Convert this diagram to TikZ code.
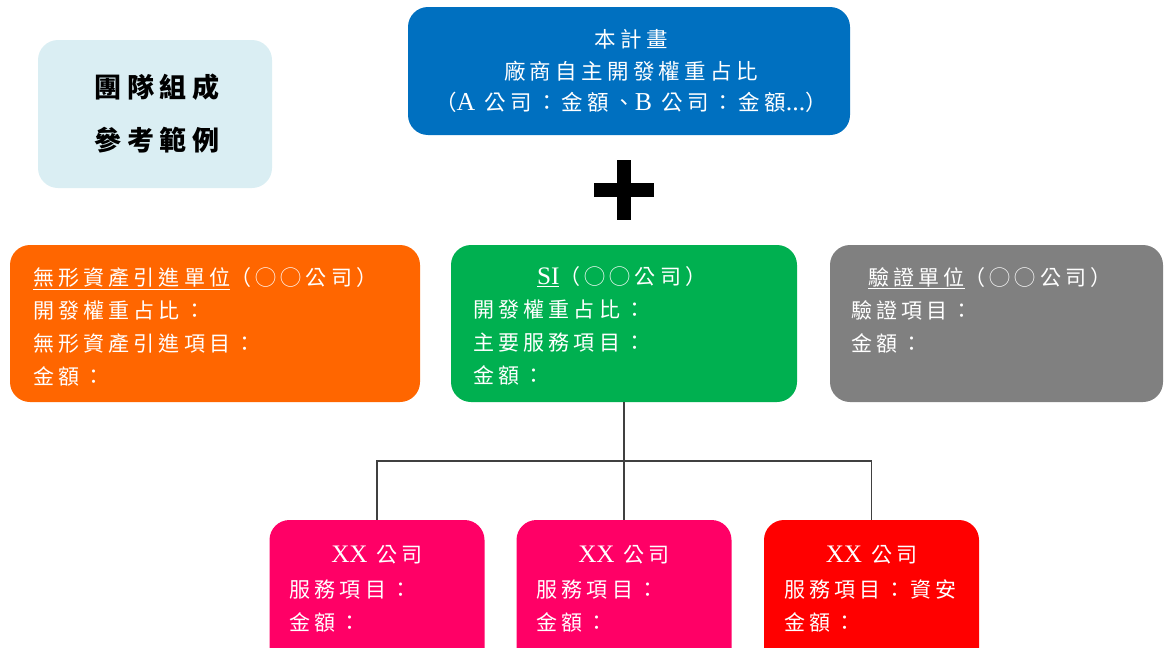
\documentclass[tikz,border=0pt]{standalone}
\usepackage{fontspec}
\setmainfont[LetterSpace=20]{Noto Sans CJK TC}
\newfontfamily\lat[Scale=1.2]{Liberation Serif}
\definecolor{teambg}{HTML}{DAEEF3}
\definecolor{planblue}{HTML}{0070C0}
\definecolor{iporange}{HTML}{FF6600}
\definecolor{sigreen}{HTML}{00B050}
\definecolor{vergray}{HTML}{808080}
\definecolor{xxpink}{HTML}{FF0066}
\definecolor{xxred}{HTML}{FF0000}
\begin{document}
\begin{tikzpicture}[x=1pt, y=-1pt]
      \tikzstyle{every node}=[inner sep=0pt]
      \tikzstyle{box}=[rounded corners=20pt, minimum height=157pt]
      \tikzstyle{txt}=[text=white, align=left, font=\fontsize{21}{33}\selectfont]
      \tikzstyle{link}=[draw=black!75, line width=1.2pt]

      \useasboundingbox (0,0) rectangle (1165,648);
      \clip (0,0) rectangle (1165,648);

      % top row
      \path (155,114) node[box, fill=teambg, minimum width=234pt, minimum height=148pt] (team) {};
      \path ([xshift=2pt]team.center) node[align=center, font=\fontsize{27}{53}\selectfont\bfseries] (teamtxt) {團隊組成\\參考範例};

      \path (629,71) node[box, fill=planblue, minimum width=442pt, minimum height=128pt] (plan) {};
      \path ([xshift=2pt]plan.center) node[text=white, align=center, font=\fontsize{21.5}{31.5}\selectfont] (plantxt)
        {本計畫\\廠商自主開發權重占比\\（{\lat A} 公司：金額、{\lat B} 公司：金額{\lat ...}）};

      % plus sign
      \fill (617,160) rectangle (631,220);
      \fill (594,183) rectangle (654,197);

      % middle row
      \path (215,323.5) node[box, fill=iporange, minimum width=410pt] (ip) {};
      \path (624,323.5) node[box, fill=sigreen, minimum width=346pt] (si) {};
      \path (996.5,323.5) node[box, fill=vergray, minimum width=333pt] (ver) {};

      \path ([xshift=23pt, yshift=-3.5pt]ip.west) node[txt, anchor=west] (iptxt)
        {\underline{無形資產引進單位}（◯◯公司）\\開發權重占比：\\無形資產引進項目：\\金額：};
      \path ([xshift=22pt, yshift=-2.5pt]si.west) node[txt, anchor=west] (sitxt)
        {\hspace*{64pt}\underline{{\lat SI}}（◯◯公司）\\開發權重占比：\\主要服務項目：\\金額：};
      \path ([xshift=21pt, yshift=13.5pt]ver.west) node[txt, anchor=west] (vertxt)
        {\hspace*{17pt}\underline{驗證單位}（◯◯公司）\\驗證項目：\\金額：};

      % bottom row
      \foreach \n/\x/\c/\s in {xa/377/xxpink/{}, xb/624/xxpink/{}, xc/871.5/xxred/資安}
      {
        \path (\x,595) node[box, fill=\c, minimum width=215pt, minimum height=150pt] (\n) {};
        \path (\x,555) node[txt] (\n-t) {{\lat XX} 公司};
        \path ([xshift=20pt, yshift=-11pt]\n.west) node[txt, anchor=west] (\n-d) {服務項目：\s\\金額：};
      }

      \coordinate (bus) at (624,461);
      \draw[link] (si.south) -- (bus);
      \draw[link] (xa.north) |- (bus) -| (xc.north);
      \draw[link] (bus) -- (xb.north);
\end{tikzpicture}
\end{document}
